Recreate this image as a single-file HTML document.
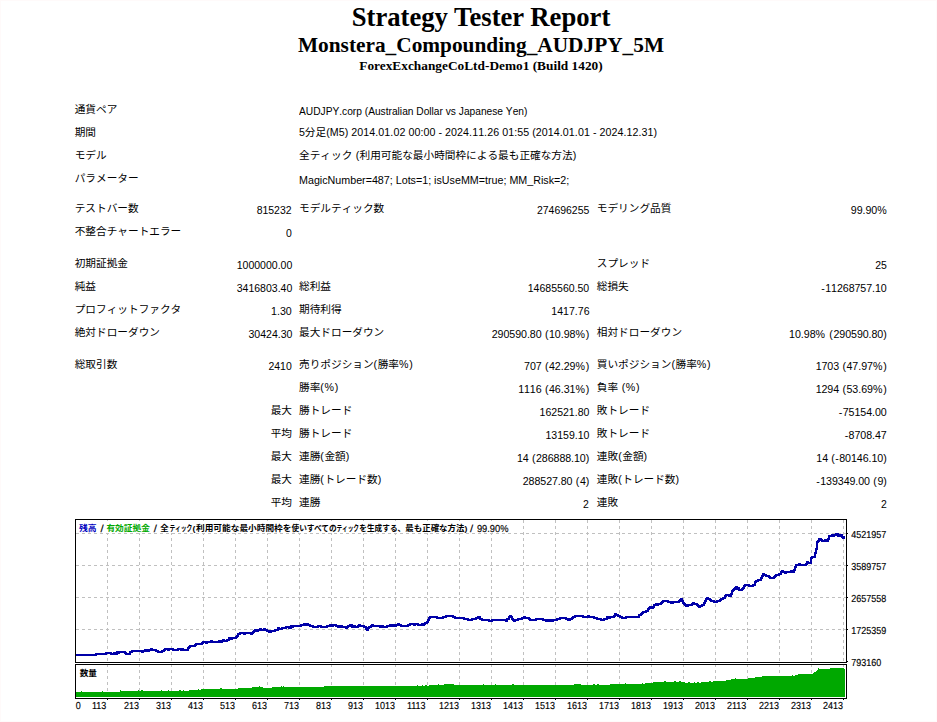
<!DOCTYPE html>
<html lang="ja"><head><meta charset="utf-8"><title>Strategy Tester: Monstera_Compounding_AUDJPY_5M</title>
<style>
html,body{margin:0;padding:0;background:#fff;}
html{overflow:hidden;}
body{width:937px;height:722px;overflow:hidden;position:relative;color:#000;
 font-family:"Liberation Sans","Noto Sans CJK JP",sans-serif;}
.hd{position:absolute;left:0;width:962px;text-align:center;font-family:"Liberation Serif","Noto Serif CJK SC",serif;font-weight:bold;white-space:nowrap;}
.h1{top:2px;font-size:26.67px;line-height:31px;}
.h2{top:33px;font-size:21.33px;line-height:25px;}
.h3{top:58px;font-size:13.33px;line-height:15px;}
.row{position:absolute;left:0;width:937px;height:16px;}
.t{position:absolute;top:0;white-space:nowrap;font-size:10.67px;line-height:16px;font-kerning:none;}
.n{top:2px;}
i{font-style:normal;}
.l{transform-origin:0 50%;}
.r{transform-origin:100% 50%;}
#chart{position:absolute;left:0;top:0;}
#foot{position:absolute;left:0;top:0;width:935px;height:720px;border:1px solid #fffafa;pointer-events:none;}
#page{position:absolute;left:0;top:0;width:937px;height:722px;overflow:hidden;}
</style></head><body>
<div id="page">
<div class="hd h1">Strategy Tester Report</div>
<div class="hd h2">Monstera_Compounding_AUDJPY_5M</div>
<div class="hd h3">ForexExchangeCoLtd-Demo1 (Build 1420)</div>
<div id="tbl">
<div class="row" style="top:101px">
<span class="t l" style="left:74.7px">通貨ペア</span>
<span class="t l n" style="left:299px;transform:scaleX(0.9569)">AUDJPY.corp (Australian Dollar vs Japanese Yen)</span>
</div>
<div class="row" style="top:124px">
<span class="t l" style="left:74.7px">期間</span>
<span class="t l" style="left:299px"><i style="letter-spacing:-0.12px">5</i>分足<i style="letter-spacing:0.07px">(M5) 2014.01.02 00:00 - 2024.11.26 01:55 (2014.01.01 - 2024.12.31)</i></span>
</div>
<div class="row" style="top:147px">
<span class="t l" style="left:74.7px">モデル</span>
<span class="t l" style="left:299px">全ティック<i style="letter-spacing:0.37px"> (</i>利用可能な最小時間枠による最も正確な方法<i style="letter-spacing:0.43px">)</i></span>
</div>
<div class="row" style="top:170px">
<span class="t l" style="left:74.7px">パラメーター</span>
<span class="t l n" style="left:299px;transform:scaleX(1.0049)">MagicNumber=487; Lots=1; isUseMM=true; MM_Risk=2;</span>
</div>
<div class="row" style="top:200px">
<span class="t l" style="left:74.7px">テストバー数</span>
<span class="t r n" style="right:645.0px;transform:scaleX(0.9824)">815232</span>
<span class="t l" style="left:299px">モデルティック数</span>
<span class="t r n" style="right:347.7px;transform:scaleX(0.9824)">274696255</span>
<span class="t l" style="left:596.8px">モデリング品質</span>
<span class="t r n" style="right:49.3px"><i style="letter-spacing:-0.03px">99.90</i><i style="letter-spacing:0.94px">%</i></span>
</div>
<div class="row" style="top:223px">
<span class="t l" style="left:74.7px">不整合チャートエラー</span>
<span class="t r n" style="right:645.0px;transform:scaleX(0.9807)">0</span>
</div>
<div class="row" style="top:255px">
<span class="t l" style="left:74.7px">初期証拠金</span>
<span class="t r n" style="right:645.0px;transform:scaleX(0.9881)">1000000.00</span>
<span class="t l" style="left:596.8px">スプレッド</span>
<span class="t r n" style="right:50.2px;transform:scaleX(0.9820)">25</span>
</div>
<div class="row" style="top:278px">
<span class="t l" style="left:74.7px">純益</span>
<span class="t r n" style="right:645.0px;transform:scaleX(0.9881)">3416803.40</span>
<span class="t l" style="left:299px">総利益</span>
<span class="t r n" style="right:347.7px;transform:scaleX(0.9876)">14685560.50</span>
<span class="t l" style="left:596.8px">総損失</span>
<span class="t r n" style="right:50.3px"><i style="letter-spacing:0.32px">-</i><i style="letter-spacing:-0.07px">11268757.10</i></span>
</div>
<div class="row" style="top:301px">
<span class="t l" style="left:74.7px">プロフィットファクタ</span>
<span class="t r n" style="right:645.0px;transform:scaleX(0.9977)">1.30</span>
<span class="t l" style="left:299px">期待利得</span>
<span class="t r n" style="right:347.7px;transform:scaleX(0.9907)">1417.76</span>
</div>
<div class="row" style="top:324px">
<span class="t l" style="left:74.7px">絶対ドローダウン</span>
<span class="t r n" style="right:645.0px;transform:scaleX(0.9897)">30424.30</span>
<span class="t l" style="left:299px">最大ドローダウン</span>
<span class="t r n" style="right:347.0px"><i style="letter-spacing:-0.07px">290590.80</i><i style="letter-spacing:0.46px"> (</i><i style="letter-spacing:-0.03px">10.98</i><i style="letter-spacing:0.74px">%)</i></span>
<span class="t l" style="left:596.8px">相対ドローダウン</span>
<span class="t r n" style="right:49.7px"><i style="letter-spacing:-0.03px">10.98</i><i style="letter-spacing:0.62px">% (</i><i style="letter-spacing:-0.07px">290590.80</i><i style="letter-spacing:0.54px">)</i></span>
</div>
<div class="row" style="top:356px">
<span class="t l" style="left:74.7px">総取引数</span>
<span class="t r n" style="right:645.0px;transform:scaleX(0.9820)">2410</span>
<span class="t l" style="left:299px">売りポジション<i style="letter-spacing:0.53px">(</i>勝率<i style="letter-spacing:0.74px">%)</i></span>
<span class="t r n" style="right:347.0px"><i style="letter-spacing:-0.11px">707</i><i style="letter-spacing:0.46px"> (</i><i style="letter-spacing:-0.03px">42.29</i><i style="letter-spacing:0.74px">%)</i></span>
<span class="t l" style="left:596.8px">買いポジション<i style="letter-spacing:0.53px">(</i>勝率<i style="letter-spacing:0.74px">%)</i></span>
<span class="t r n" style="right:49.5px"><i style="letter-spacing:-0.11px">1703</i><i style="letter-spacing:0.46px"> (</i><i style="letter-spacing:-0.03px">47.97</i><i style="letter-spacing:0.74px">%)</i></span>
</div>
<div class="row" style="top:379px">
<span class="t l" style="left:299px">勝率<i style="letter-spacing:0.67px">(%)</i></span>
<span class="t r n" style="right:347.0px"><i style="letter-spacing:-0.11px">1116</i><i style="letter-spacing:0.46px"> (</i><i style="letter-spacing:-0.03px">46.31</i><i style="letter-spacing:0.74px">%)</i></span>
<span class="t l" style="left:596.8px">負率<i style="letter-spacing:0.60px"> (%)</i></span>
<span class="t r n" style="right:49.5px"><i style="letter-spacing:-0.11px">1294</i><i style="letter-spacing:0.46px"> (</i><i style="letter-spacing:-0.03px">53.69</i><i style="letter-spacing:0.74px">%)</i></span>
</div>
<div class="row" style="top:402px">
<span class="t r" style="right:645.0px">最大</span>
<span class="t l" style="left:299px">勝トレード</span>
<span class="t r n" style="right:347.7px;transform:scaleX(0.9889)">162521.80</span>
<span class="t l" style="left:596.8px">敗トレード</span>
<span class="t r n" style="right:50.3px"><i style="letter-spacing:0.32px">-</i><i style="letter-spacing:-0.06px">75154.00</i></span>
</div>
<div class="row" style="top:425px">
<span class="t r" style="right:645.0px">平均</span>
<span class="t l" style="left:299px">勝トレード</span>
<span class="t r n" style="right:347.7px;transform:scaleX(0.9897)">13159.10</span>
<span class="t l" style="left:596.8px">敗トレード</span>
<span class="t r n" style="right:50.3px"><i style="letter-spacing:0.32px">-</i><i style="letter-spacing:-0.06px">8708.47</i></span>
</div>
<div class="row" style="top:448px">
<span class="t r" style="right:645.0px">最大</span>
<span class="t l" style="left:299px">連勝<i style="letter-spacing:0.53px">(</i>金額<i style="letter-spacing:0.53px">)</i></span>
<span class="t r n" style="right:347.2px"><i style="letter-spacing:-0.11px">14</i><i style="letter-spacing:0.46px"> (</i><i style="letter-spacing:-0.07px">286888.10</i><i style="letter-spacing:0.54px">)</i></span>
<span class="t l" style="left:596.8px">連敗<i style="letter-spacing:0.53px">(</i>金額<i style="letter-spacing:0.53px">)</i></span>
<span class="t r n" style="right:49.7px"><i style="letter-spacing:-0.11px">14</i><i style="letter-spacing:0.41px"> (-</i><i style="letter-spacing:-0.06px">80146.10</i><i style="letter-spacing:0.54px">)</i></span>
</div>
<div class="row" style="top:471px">
<span class="t r" style="right:645.0px">最大</span>
<span class="t l" style="left:299px">連勝<i style="letter-spacing:0.53px">(</i>トレード数<i style="letter-spacing:0.53px">)</i></span>
<span class="t r n" style="right:347.2px"><i style="letter-spacing:-0.07px">288527.80</i><i style="letter-spacing:0.46px"> (</i><i style="letter-spacing:-0.11px">4</i><i style="letter-spacing:0.54px">)</i></span>
<span class="t l" style="left:596.8px">連敗<i style="letter-spacing:0.53px">(</i>トレード数<i style="letter-spacing:0.53px">)</i></span>
<span class="t r n" style="right:49.7px"><i style="letter-spacing:0.32px">-</i><i style="letter-spacing:-0.07px">139349.00</i><i style="letter-spacing:0.46px"> (</i><i style="letter-spacing:-0.11px">9</i><i style="letter-spacing:0.54px">)</i></span>
</div>
<div class="row" style="top:494px">
<span class="t r" style="right:645.0px">平均</span>
<span class="t l" style="left:299px">連勝</span>
<span class="t r n" style="right:347.7px;transform:scaleX(0.9807)">2</span>
<span class="t l" style="left:596.8px">連敗</span>
<span class="t r n" style="right:50.2px;transform:scaleX(0.9807)">2</span>
</div>
</div>
<svg id="chart" width="937" height="722" viewBox="0 0 937 722">
<g fill="none" stroke="#c0c0c0" stroke-width="1" stroke-dasharray="3 3" shape-rendering="crispEdges">
<path d="M107.5 520V698M139.5 520V698M171.5 520V698M203.5 520V698M235.5 520V698M267.5 520V698M299.5 520V698M331.5 520V698M363.5 520V698M395.5 520V698M427.5 520V698M459.5 520V698M491.5 520V698M523.5 520V698M555.5 520V698M587.5 520V698M619.5 520V698M651.5 520V698M683.5 520V698M715.5 520V698M747.5 520V698M779.5 520V698M811.5 520V698M843.5 520V698M76 533.5H846M76 565.5H846M76 597.5H846M76 629.5H846"/>
</g>
<path d="M70 663h790v1h-790z M76 521h434v12h-434z" fill="#fff"/>
<path d="M76 692h1V697h-1zM77 692h1V697h-1zM78 692h1V697h-1zM79 692h1V697h-1zM80 692h1V697h-1zM81 691h1V697h-1zM82 692h1V697h-1zM83 692h1V697h-1zM84 692h1V697h-1zM85 692h1V697h-1zM86 692h1V697h-1zM87 692h1V697h-1zM88 692h1V697h-1zM89 692h1V697h-1zM90 692h1V697h-1zM91 692h1V697h-1zM92 692h1V697h-1zM93 692h1V697h-1zM94 692h1V697h-1zM95 692h1V697h-1zM96 692h1V697h-1zM97 692h1V697h-1zM98 692h1V697h-1zM99 692h1V697h-1zM100 692h1V697h-1zM101 692h1V697h-1zM102 691h1V697h-1zM103 692h1V697h-1zM104 692h1V697h-1zM105 692h1V697h-1zM106 692h1V697h-1zM107 692h1V697h-1zM108 692h1V697h-1zM109 692h1V697h-1zM110 692h1V697h-1zM111 692h1V697h-1zM112 692h1V697h-1zM113 692h1V697h-1zM114 692h1V697h-1zM115 692h1V697h-1zM116 692h1V697h-1zM117 692h1V697h-1zM118 692h1V697h-1zM119 692h1V697h-1zM120 690h1V697h-1zM121 691h1V697h-1zM122 691h1V697h-1zM123 691h1V697h-1zM124 691h1V697h-1zM125 691h1V697h-1zM126 691h1V697h-1zM127 691h1V697h-1zM128 691h1V697h-1zM129 691h1V697h-1zM130 691h1V697h-1zM131 691h1V697h-1zM132 691h1V697h-1zM133 691h1V697h-1zM134 691h1V697h-1zM135 691h1V697h-1zM136 691h1V697h-1zM137 691h1V697h-1zM138 690h1V697h-1zM139 691h1V697h-1zM140 691h1V697h-1zM141 690h1V697h-1zM142 690h1V697h-1zM143 691h1V697h-1zM144 691h1V697h-1zM145 691h1V697h-1zM146 691h1V697h-1zM147 691h1V697h-1zM148 691h1V697h-1zM149 691h1V697h-1zM150 691h1V697h-1zM151 691h1V697h-1zM152 691h1V697h-1zM153 691h1V697h-1zM154 691h1V697h-1zM155 691h1V697h-1zM156 691h1V697h-1zM157 691h1V697h-1zM158 691h1V697h-1zM159 691h1V697h-1zM160 691h1V697h-1zM161 690h1V697h-1zM162 691h1V697h-1zM163 691h1V697h-1zM164 691h1V697h-1zM165 691h1V697h-1zM166 691h1V697h-1zM167 691h1V697h-1zM168 690h1V697h-1zM169 691h1V697h-1zM170 691h1V697h-1zM171 691h1V697h-1zM172 691h1V697h-1zM173 691h1V697h-1zM174 691h1V697h-1zM175 691h1V697h-1zM176 691h1V697h-1zM177 691h1V697h-1zM178 691h1V697h-1zM179 690h1V697h-1zM180 690h1V697h-1zM181 691h1V697h-1zM182 691h1V697h-1zM183 690h1V697h-1zM184 691h1V697h-1zM185 691h1V697h-1zM186 691h1V697h-1zM187 691h1V697h-1zM188 691h1V697h-1zM189 690h1V697h-1zM190 690h1V697h-1zM191 690h1V697h-1zM192 690h1V697h-1zM193 690h1V697h-1zM194 690h1V697h-1zM195 690h1V697h-1zM196 690h1V697h-1zM197 690h1V697h-1zM198 689h1V697h-1zM199 690h1V697h-1zM200 690h1V697h-1zM201 689h1V697h-1zM202 689h1V697h-1zM203 689h1V697h-1zM204 689h1V697h-1zM205 689h1V697h-1zM206 689h1V697h-1zM207 689h1V697h-1zM208 689h1V697h-1zM209 689h1V697h-1zM210 689h1V697h-1zM211 689h1V697h-1zM212 689h1V697h-1zM213 689h1V697h-1zM214 689h1V697h-1zM215 689h1V697h-1zM216 689h1V697h-1zM217 689h1V697h-1zM218 689h1V697h-1zM219 689h1V697h-1zM220 688h1V697h-1zM221 688h1V697h-1zM222 689h1V697h-1zM223 689h1V697h-1zM224 689h1V697h-1zM225 689h1V697h-1zM226 689h1V697h-1zM227 689h1V697h-1zM228 689h1V697h-1zM229 689h1V697h-1zM230 689h1V697h-1zM231 689h1V697h-1zM232 689h1V697h-1zM233 689h1V697h-1zM234 689h1V697h-1zM235 689h1V697h-1zM236 689h1V697h-1zM237 689h1V697h-1zM238 688h1V697h-1zM239 688h1V697h-1zM240 688h1V697h-1zM241 688h1V697h-1zM242 688h1V697h-1zM243 688h1V697h-1zM244 688h1V697h-1zM245 688h1V697h-1zM246 688h1V697h-1zM247 688h1V697h-1zM248 688h1V697h-1zM249 688h1V697h-1zM250 688h1V697h-1zM251 688h1V697h-1zM252 687h1V697h-1zM253 687h1V697h-1zM254 687h1V697h-1zM255 687h1V697h-1zM256 687h1V697h-1zM257 687h1V697h-1zM258 687h1V697h-1zM259 686h1V697h-1zM260 687h1V697h-1zM261 687h1V697h-1zM262 687h1V697h-1zM263 688h1V697h-1zM264 688h1V697h-1zM265 688h1V697h-1zM266 688h1V697h-1zM267 688h1V697h-1zM268 688h1V697h-1zM269 688h1V697h-1zM270 688h1V697h-1zM271 688h1V697h-1zM272 687h1V697h-1zM273 687h1V697h-1zM274 687h1V697h-1zM275 687h1V697h-1zM276 687h1V697h-1zM277 687h1V697h-1zM278 687h1V697h-1zM279 687h1V697h-1zM280 687h1V697h-1zM281 686h1V697h-1zM282 687h1V697h-1zM283 686h1V697h-1zM284 687h1V697h-1zM285 687h1V697h-1zM286 687h1V697h-1zM287 687h1V697h-1zM288 687h1V697h-1zM289 687h1V697h-1zM290 687h1V697h-1zM291 687h1V697h-1zM292 687h1V697h-1zM293 687h1V697h-1zM294 687h1V697h-1zM295 687h1V697h-1zM296 687h1V697h-1zM297 687h1V697h-1zM298 687h1V697h-1zM299 687h1V697h-1zM300 687h1V697h-1zM301 687h1V697h-1zM302 687h1V697h-1zM303 687h1V697h-1zM304 687h1V697h-1zM305 687h1V697h-1zM306 687h1V697h-1zM307 687h1V697h-1zM308 687h1V697h-1zM309 687h1V697h-1zM310 687h1V697h-1zM311 687h1V697h-1zM312 687h1V697h-1zM313 687h1V697h-1zM314 687h1V697h-1zM315 687h1V697h-1zM316 687h1V697h-1zM317 687h1V697h-1zM318 687h1V697h-1zM319 687h1V697h-1zM320 687h1V697h-1zM321 687h1V697h-1zM322 687h1V697h-1zM323 687h1V697h-1zM324 686h1V697h-1zM325 686h1V697h-1zM326 686h1V697h-1zM327 686h1V697h-1zM328 686h1V697h-1zM329 686h1V697h-1zM330 686h1V697h-1zM331 686h1V697h-1zM332 686h1V697h-1zM333 686h1V697h-1zM334 686h1V697h-1zM335 686h1V697h-1zM336 686h1V697h-1zM337 686h1V697h-1zM338 686h1V697h-1zM339 686h1V697h-1zM340 686h1V697h-1zM341 686h1V697h-1zM342 686h1V697h-1zM343 686h1V697h-1zM344 686h1V697h-1zM345 686h1V697h-1zM346 686h1V697h-1zM347 686h1V697h-1zM348 686h1V697h-1zM349 686h1V697h-1zM350 686h1V697h-1zM351 686h1V697h-1zM352 686h1V697h-1zM353 686h1V697h-1zM354 686h1V697h-1zM355 686h1V697h-1zM356 686h1V697h-1zM357 686h1V697h-1zM358 686h1V697h-1zM359 686h1V697h-1zM360 686h1V697h-1zM361 686h1V697h-1zM362 686h1V697h-1zM363 686h1V697h-1zM364 686h1V697h-1zM365 686h1V697h-1zM366 686h1V697h-1zM367 686h1V697h-1zM368 686h1V697h-1zM369 686h1V697h-1zM370 686h1V697h-1zM371 686h1V697h-1zM372 686h1V697h-1zM373 686h1V697h-1zM374 686h1V697h-1zM375 686h1V697h-1zM376 686h1V697h-1zM377 686h1V697h-1zM378 686h1V697h-1zM379 686h1V697h-1zM380 686h1V697h-1zM381 686h1V697h-1zM382 686h1V697h-1zM383 686h1V697h-1zM384 686h1V697h-1zM385 686h1V697h-1zM386 686h1V697h-1zM387 686h1V697h-1zM388 686h1V697h-1zM389 686h1V697h-1zM390 686h1V697h-1zM391 686h1V697h-1zM392 686h1V697h-1zM393 686h1V697h-1zM394 686h1V697h-1zM395 686h1V697h-1zM396 686h1V697h-1zM397 686h1V697h-1zM398 686h1V697h-1zM399 686h1V697h-1zM400 686h1V697h-1zM401 686h1V697h-1zM402 686h1V697h-1zM403 686h1V697h-1zM404 686h1V697h-1zM405 686h1V697h-1zM406 686h1V697h-1zM407 686h1V697h-1zM408 686h1V697h-1zM409 686h1V697h-1zM410 686h1V697h-1zM411 686h1V697h-1zM412 686h1V697h-1zM413 686h1V697h-1zM414 686h1V697h-1zM415 686h1V697h-1zM416 686h1V697h-1zM417 685h1V697h-1zM418 686h1V697h-1zM419 686h1V697h-1zM420 686h1V697h-1zM421 686h1V697h-1zM422 685h1V697h-1zM423 686h1V697h-1zM424 686h1V697h-1zM425 685h1V697h-1zM426 685h1V697h-1zM427 686h1V697h-1zM428 686h1V697h-1zM429 685h1V697h-1zM430 685h1V697h-1zM431 685h1V697h-1zM432 685h1V697h-1zM433 685h1V697h-1zM434 685h1V697h-1zM435 685h1V697h-1zM436 685h1V697h-1zM437 685h1V697h-1zM438 684h1V697h-1zM439 685h1V697h-1zM440 685h1V697h-1zM441 685h1V697h-1zM442 685h1V697h-1zM443 685h1V697h-1zM444 684h1V697h-1zM445 684h1V697h-1zM446 684h1V697h-1zM447 684h1V697h-1zM448 684h1V697h-1zM449 684h1V697h-1zM450 684h1V697h-1zM451 684h1V697h-1zM452 684h1V697h-1zM453 684h1V697h-1zM454 685h1V697h-1zM455 685h1V697h-1zM456 685h1V697h-1zM457 685h1V697h-1zM458 685h1V697h-1zM459 685h1V697h-1zM460 685h1V697h-1zM461 685h1V697h-1zM462 685h1V697h-1zM463 685h1V697h-1zM464 685h1V697h-1zM465 685h1V697h-1zM466 685h1V697h-1zM467 685h1V697h-1zM468 685h1V697h-1zM469 685h1V697h-1zM470 685h1V697h-1zM471 685h1V697h-1zM472 685h1V697h-1zM473 685h1V697h-1zM474 685h1V697h-1zM475 685h1V697h-1zM476 685h1V697h-1zM477 685h1V697h-1zM478 685h1V697h-1zM479 685h1V697h-1zM480 685h1V697h-1zM481 685h1V697h-1zM482 685h1V697h-1zM483 684h1V697h-1zM484 685h1V697h-1zM485 685h1V697h-1zM486 685h1V697h-1zM487 685h1V697h-1zM488 685h1V697h-1zM489 685h1V697h-1zM490 685h1V697h-1zM491 685h1V697h-1zM492 685h1V697h-1zM493 685h1V697h-1zM494 685h1V697h-1zM495 684h1V697h-1zM496 685h1V697h-1zM497 685h1V697h-1zM498 685h1V697h-1zM499 685h1V697h-1zM500 685h1V697h-1zM501 685h1V697h-1zM502 685h1V697h-1zM503 685h1V697h-1zM504 685h1V697h-1zM505 685h1V697h-1zM506 685h1V697h-1zM507 685h1V697h-1zM508 685h1V697h-1zM509 685h1V697h-1zM510 685h1V697h-1zM511 685h1V697h-1zM512 684h1V697h-1zM513 684h1V697h-1zM514 685h1V697h-1zM515 685h1V697h-1zM516 685h1V697h-1zM517 685h1V697h-1zM518 685h1V697h-1zM519 685h1V697h-1zM520 685h1V697h-1zM521 685h1V697h-1zM522 685h1V697h-1zM523 685h1V697h-1zM524 685h1V697h-1zM525 685h1V697h-1zM526 685h1V697h-1zM527 685h1V697h-1zM528 685h1V697h-1zM529 685h1V697h-1zM530 685h1V697h-1zM531 685h1V697h-1zM532 685h1V697h-1zM533 685h1V697h-1zM534 685h1V697h-1zM535 685h1V697h-1zM536 685h1V697h-1zM537 685h1V697h-1zM538 685h1V697h-1zM539 685h1V697h-1zM540 685h1V697h-1zM541 685h1V697h-1zM542 685h1V697h-1zM543 685h1V697h-1zM544 685h1V697h-1zM545 685h1V697h-1zM546 685h1V697h-1zM547 685h1V697h-1zM548 685h1V697h-1zM549 685h1V697h-1zM550 685h1V697h-1zM551 685h1V697h-1zM552 685h1V697h-1zM553 685h1V697h-1zM554 685h1V697h-1zM555 685h1V697h-1zM556 685h1V697h-1zM557 685h1V697h-1zM558 685h1V697h-1zM559 685h1V697h-1zM560 685h1V697h-1zM561 685h1V697h-1zM562 685h1V697h-1zM563 685h1V697h-1zM564 685h1V697h-1zM565 685h1V697h-1zM566 685h1V697h-1zM567 685h1V697h-1zM568 685h1V697h-1zM569 685h1V697h-1zM570 685h1V697h-1zM571 685h1V697h-1zM572 685h1V697h-1zM573 685h1V697h-1zM574 684h1V697h-1zM575 684h1V697h-1zM576 684h1V697h-1zM577 684h1V697h-1zM578 684h1V697h-1zM579 684h1V697h-1zM580 684h1V697h-1zM581 685h1V697h-1zM582 685h1V697h-1zM583 685h1V697h-1zM584 685h1V697h-1zM585 685h1V697h-1zM586 685h1V697h-1zM587 685h1V697h-1zM588 685h1V697h-1zM589 685h1V697h-1zM590 685h1V697h-1zM591 685h1V697h-1zM592 685h1V697h-1zM593 684h1V697h-1zM594 684h1V697h-1zM595 685h1V697h-1zM596 685h1V697h-1zM597 684h1V697h-1zM598 684h1V697h-1zM599 685h1V697h-1zM600 685h1V697h-1zM601 685h1V697h-1zM602 685h1V697h-1zM603 685h1V697h-1zM604 685h1V697h-1zM605 685h1V697h-1zM606 685h1V697h-1zM607 685h1V697h-1zM608 685h1V697h-1zM609 685h1V697h-1zM610 684h1V697h-1zM611 684h1V697h-1zM612 684h1V697h-1zM613 684h1V697h-1zM614 684h1V697h-1zM615 684h1V697h-1zM616 684h1V697h-1zM617 684h1V697h-1zM618 684h1V697h-1zM619 684h1V697h-1zM620 684h1V697h-1zM621 684h1V697h-1zM622 684h1V697h-1zM623 684h1V697h-1zM624 684h1V697h-1zM625 683h1V697h-1zM626 684h1V697h-1zM627 684h1V697h-1zM628 684h1V697h-1zM629 684h1V697h-1zM630 684h1V697h-1zM631 684h1V697h-1zM632 684h1V697h-1zM633 684h1V697h-1zM634 684h1V697h-1zM635 684h1V697h-1zM636 684h1V697h-1zM637 684h1V697h-1zM638 684h1V697h-1zM639 684h1V697h-1zM640 684h1V697h-1zM641 684h1V697h-1zM642 683h1V697h-1zM643 684h1V697h-1zM644 684h1V697h-1zM645 683h1V697h-1zM646 683h1V697h-1zM647 683h1V697h-1zM648 683h1V697h-1zM649 683h1V697h-1zM650 683h1V697h-1zM651 683h1V697h-1zM652 683h1V697h-1zM653 682h1V697h-1zM654 682h1V697h-1zM655 682h1V697h-1zM656 682h1V697h-1zM657 682h1V697h-1zM658 682h1V697h-1zM659 682h1V697h-1zM660 682h1V697h-1zM661 682h1V697h-1zM662 682h1V697h-1zM663 682h1V697h-1zM664 681h1V697h-1zM665 681h1V697h-1zM666 682h1V697h-1zM667 682h1V697h-1zM668 682h1V697h-1zM669 682h1V697h-1zM670 682h1V697h-1zM671 682h1V697h-1zM672 682h1V697h-1zM673 682h1V697h-1zM674 681h1V697h-1zM675 681h1V697h-1zM676 682h1V697h-1zM677 682h1V697h-1zM678 682h1V697h-1zM679 681h1V697h-1zM680 681h1V697h-1zM681 682h1V697h-1zM682 682h1V697h-1zM683 682h1V697h-1zM684 682h1V697h-1zM685 683h1V697h-1zM686 683h1V697h-1zM687 683h1V697h-1zM688 682h1V697h-1zM689 682h1V697h-1zM690 683h1V697h-1zM691 683h1V697h-1zM692 683h1V697h-1zM693 683h1V697h-1zM694 682h1V697h-1zM695 683h1V697h-1zM696 683h1V697h-1zM697 682h1V697h-1zM698 682h1V697h-1zM699 683h1V697h-1zM700 683h1V697h-1zM701 682h1V697h-1zM702 682h1V697h-1zM703 682h1V697h-1zM704 682h1V697h-1zM705 682h1V697h-1zM706 682h1V697h-1zM707 682h1V697h-1zM708 682h1V697h-1zM709 681h1V697h-1zM710 681h1V697h-1zM711 682h1V697h-1zM712 682h1V697h-1zM713 681h1V697h-1zM714 681h1V697h-1zM715 681h1V697h-1zM716 681h1V697h-1zM717 681h1V697h-1zM718 681h1V697h-1zM719 681h1V697h-1zM720 681h1V697h-1zM721 681h1V697h-1zM722 681h1V697h-1zM723 681h1V697h-1zM724 681h1V697h-1zM725 681h1V697h-1zM726 680h1V697h-1zM727 680h1V697h-1zM728 680h1V697h-1zM729 680h1V697h-1zM730 680h1V697h-1zM731 679h1V697h-1zM732 679h1V697h-1zM733 679h1V697h-1zM734 679h1V697h-1zM735 678h1V697h-1zM736 679h1V697h-1zM737 679h1V697h-1zM738 679h1V697h-1zM739 679h1V697h-1zM740 679h1V697h-1zM741 679h1V697h-1zM742 679h1V697h-1zM743 679h1V697h-1zM744 679h1V697h-1zM745 679h1V697h-1zM746 679h1V697h-1zM747 679h1V697h-1zM748 678h1V697h-1zM749 678h1V697h-1zM750 678h1V697h-1zM751 678h1V697h-1zM752 678h1V697h-1zM753 678h1V697h-1zM754 678h1V697h-1zM755 677h1V697h-1zM756 677h1V697h-1zM757 677h1V697h-1zM758 677h1V697h-1zM759 677h1V697h-1zM760 677h1V697h-1zM761 677h1V697h-1zM762 676h1V697h-1zM763 676h1V697h-1zM764 676h1V697h-1zM765 676h1V697h-1zM766 676h1V697h-1zM767 676h1V697h-1zM768 676h1V697h-1zM769 676h1V697h-1zM770 676h1V697h-1zM771 676h1V697h-1zM772 676h1V697h-1zM773 676h1V697h-1zM774 676h1V697h-1zM775 676h1V697h-1zM776 676h1V697h-1zM777 676h1V697h-1zM778 676h1V697h-1zM779 676h1V697h-1zM780 676h1V697h-1zM781 676h1V697h-1zM782 676h1V697h-1zM783 676h1V697h-1zM784 676h1V697h-1zM785 676h1V697h-1zM786 676h1V697h-1zM787 676h1V697h-1zM788 676h1V697h-1zM789 676h1V697h-1zM790 676h1V697h-1zM791 676h1V697h-1zM792 675h1V697h-1zM793 676h1V697h-1zM794 676h1V697h-1zM795 675h1V697h-1zM796 675h1V697h-1zM797 675h1V697h-1zM798 674h1V697h-1zM799 674h1V697h-1zM800 674h1V697h-1zM801 674h1V697h-1zM802 674h1V697h-1zM803 674h1V697h-1zM804 674h1V697h-1zM805 674h1V697h-1zM806 674h1V697h-1zM807 674h1V697h-1zM808 674h1V697h-1zM809 674h1V697h-1zM810 674h1V697h-1zM811 674h1V697h-1zM812 674h1V697h-1zM813 673h1V697h-1zM814 672h1V697h-1zM815 672h1V697h-1zM816 671h1V697h-1zM817 670h1V697h-1zM818 668h1V697h-1zM819 669h1V697h-1zM820 669h1V697h-1zM821 669h1V697h-1zM822 669h1V697h-1zM823 669h1V697h-1zM824 669h1V697h-1zM825 669h1V697h-1zM826 669h1V697h-1zM827 669h1V697h-1zM828 669h1V697h-1zM829 669h1V697h-1zM830 668h1V697h-1zM831 668h1V697h-1zM832 668h1V697h-1zM833 668h1V697h-1zM834 668h1V697h-1zM835 668h1V697h-1zM836 668h1V697h-1zM837 668h1V697h-1zM838 668h1V697h-1zM839 668h1V697h-1zM840 668h1V697h-1zM841 668h1V697h-1zM842 668h1V697h-1zM843 668h1V697h-1zM844 669h1V697h-1z" fill="#00a800" shape-rendering="crispEdges"/>
<path d="M75 654h2v2h-2zM76 654h2v2h-2zM77 654h2v2h-2zM78 654h2v2h-2zM79 654h2v2h-2zM80 654h2v2h-2zM81 654h2v2h-2zM82 654h2v2h-2zM83 654h2v2h-2zM84 654h2v2h-2zM85 654h2v2h-2zM86 654h2v2h-2zM87 654h2v2h-2zM88 654h2v2h-2zM89 654h2v2h-2zM90 654h2v2h-2zM91 654h2v2h-2zM92 654h2v2h-2zM93 654h2v2h-2zM94 654h2v2h-2zM95 653h2v3h-2zM96 653h2v2h-2zM97 653h2v2h-2zM98 653h2v2h-2zM99 653h2v2h-2zM100 653h2v2h-2zM101 653h2v2h-2zM102 653h2v2h-2zM103 653h2v2h-2zM104 653h2v2h-2zM105 652h2v3h-2zM106 652h2v2h-2zM107 652h2v2h-2zM108 652h2v2h-2zM109 652h2v2h-2zM110 652h2v3h-2zM111 653h2v2h-2zM112 653h2v2h-2zM113 652h2v3h-2zM114 652h2v3h-2zM115 653h2v2h-2zM116 651h2v4h-2zM117 651h2v3h-2zM118 651h2v3h-2zM119 651h2v2h-2zM120 651h2v2h-2zM121 651h2v2h-2zM122 651h2v2h-2zM123 651h2v2h-2zM124 651h2v3h-2zM125 652h2v3h-2zM126 653h2v2h-2zM127 653h2v2h-2zM128 653h2v2h-2zM129 651h2v4h-2zM130 651h2v2h-2zM131 650h2v3h-2zM132 650h2v2h-2zM133 650h2v2h-2zM134 650h2v2h-2zM135 650h2v2h-2zM136 650h2v2h-2zM137 650h2v2h-2zM138 650h2v2h-2zM139 650h2v2h-2zM140 650h2v2h-2zM141 650h2v3h-2zM142 650h2v3h-2zM143 650h2v2h-2zM144 649h2v3h-2zM145 649h2v2h-2zM146 649h2v3h-2zM147 650h2v2h-2zM148 649h2v3h-2zM149 649h2v2h-2zM150 648h2v3h-2zM151 648h2v3h-2zM152 649h2v2h-2zM153 649h2v2h-2zM154 649h2v2h-2zM155 649h2v3h-2zM156 650h2v2h-2zM157 650h2v3h-2zM158 651h2v2h-2zM159 651h2v2h-2zM160 651h2v2h-2zM161 650h2v3h-2zM162 650h2v2h-2zM163 649h2v3h-2zM164 648h2v3h-2zM165 648h2v2h-2zM166 648h2v2h-2zM167 648h2v3h-2zM168 648h2v3h-2zM169 648h2v2h-2zM170 648h2v2h-2zM171 648h2v2h-2zM172 648h2v3h-2zM173 649h2v2h-2zM174 649h2v2h-2zM175 649h2v2h-2zM176 649h2v2h-2zM177 648h2v3h-2zM178 648h2v2h-2zM179 648h2v2h-2zM180 648h2v3h-2zM181 648h2v3h-2zM182 648h2v3h-2zM183 649h2v2h-2zM184 649h2v2h-2zM185 649h2v2h-2zM186 649h2v2h-2zM187 647h2v4h-2zM188 646h2v3h-2zM189 645h2v3h-2zM190 645h2v2h-2zM191 645h2v2h-2zM192 645h2v2h-2zM193 645h2v2h-2zM194 644h2v3h-2zM195 643h2v3h-2zM196 643h2v2h-2zM197 643h2v2h-2zM198 643h2v2h-2zM199 643h2v2h-2zM200 643h2v2h-2zM201 642h2v3h-2zM202 641h2v3h-2zM203 641h2v2h-2zM204 641h2v2h-2zM205 641h2v3h-2zM206 641h2v3h-2zM207 641h2v2h-2zM208 641h2v2h-2zM209 641h2v2h-2zM210 640h2v3h-2zM211 640h2v3h-2zM212 641h2v2h-2zM213 641h2v2h-2zM214 641h2v2h-2zM215 641h2v2h-2zM216 641h2v2h-2zM217 641h2v2h-2zM218 640h2v3h-2zM219 640h2v2h-2zM220 640h2v3h-2zM221 640h2v3h-2zM222 639h2v3h-2zM223 639h2v3h-2zM224 640h2v2h-2zM225 640h2v2h-2zM226 639h2v3h-2zM227 639h2v2h-2zM228 637h2v4h-2zM229 637h2v2h-2zM230 637h2v3h-2zM231 637h2v3h-2zM232 637h2v2h-2zM233 637h2v2h-2zM234 637h2v2h-2zM235 636h2v3h-2zM236 635h2v3h-2zM237 633h2v4h-2zM238 633h2v2h-2zM239 632h2v3h-2zM240 632h2v2h-2zM241 632h2v2h-2zM242 632h2v2h-2zM243 632h2v3h-2zM244 632h2v3h-2zM245 632h2v2h-2zM246 632h2v2h-2zM247 632h2v2h-2zM248 632h2v2h-2zM249 632h2v2h-2zM250 632h2v3h-2zM251 632h2v3h-2zM252 631h2v3h-2zM253 630h2v3h-2zM254 629h2v3h-2zM255 629h2v3h-2zM256 630h2v2h-2zM257 629h2v3h-2zM258 629h2v2h-2zM259 628h2v3h-2zM260 628h2v3h-2zM261 629h2v2h-2zM262 629h2v2h-2zM263 628h2v3h-2zM264 628h2v3h-2zM265 629h2v2h-2zM266 629h2v3h-2zM267 630h2v2h-2zM268 630h2v3h-2zM269 631h2v2h-2zM270 630h2v3h-2zM271 630h2v2h-2zM272 630h2v2h-2zM273 630h2v2h-2zM274 629h2v3h-2zM275 629h2v2h-2zM276 629h2v2h-2zM277 627h2v4h-2zM278 627h2v3h-2zM279 628h2v2h-2zM280 628h2v2h-2zM281 627h2v3h-2zM282 627h2v2h-2zM283 627h2v2h-2zM284 627h2v2h-2zM285 626h2v3h-2zM286 626h2v2h-2zM287 626h2v2h-2zM288 626h2v3h-2zM289 627h2v2h-2zM290 625h2v4h-2zM291 625h2v3h-2zM292 625h2v3h-2zM293 625h2v2h-2zM294 625h2v2h-2zM295 625h2v2h-2zM296 625h2v2h-2zM297 625h2v2h-2zM298 625h2v2h-2zM299 625h2v2h-2zM300 624h2v3h-2zM301 624h2v2h-2zM302 624h2v2h-2zM303 623h2v3h-2zM304 623h2v2h-2zM305 623h2v3h-2zM306 623h2v3h-2zM307 623h2v3h-2zM308 624h2v2h-2zM309 624h2v3h-2zM310 625h2v2h-2zM311 625h2v2h-2zM312 625h2v3h-2zM313 626h2v2h-2zM314 626h2v2h-2zM315 626h2v2h-2zM316 626h2v2h-2zM317 625h2v3h-2zM318 625h2v2h-2zM319 625h2v2h-2zM320 625h2v3h-2zM321 626h2v2h-2zM322 626h2v2h-2zM323 626h2v2h-2zM324 626h2v2h-2zM325 626h2v2h-2zM326 625h2v3h-2zM327 625h2v2h-2zM328 625h2v2h-2zM329 624h2v3h-2zM330 624h2v2h-2zM331 624h2v3h-2zM332 624h2v3h-2zM333 624h2v2h-2zM334 624h2v2h-2zM335 624h2v3h-2zM336 625h2v2h-2zM337 625h2v3h-2zM338 626h2v2h-2zM339 625h2v3h-2zM340 625h2v2h-2zM341 625h2v3h-2zM342 626h2v2h-2zM343 626h2v2h-2zM344 626h2v2h-2zM345 626h2v3h-2zM346 626h2v3h-2zM347 625h2v3h-2zM348 625h2v2h-2zM349 624h2v3h-2zM350 624h2v2h-2zM351 624h2v4h-2zM352 625h2v3h-2zM353 625h2v2h-2zM354 625h2v3h-2zM355 626h2v2h-2zM356 626h2v2h-2zM357 625h2v3h-2zM358 624h2v3h-2zM359 624h2v3h-2zM360 625h2v2h-2zM361 625h2v2h-2zM362 625h2v2h-2zM363 625h2v3h-2zM364 626h2v2h-2zM365 626h2v4h-2zM366 628h2v3h-2zM367 627h2v4h-2zM368 626h2v3h-2zM369 626h2v2h-2zM370 625h2v3h-2zM371 624h2v3h-2zM372 624h2v3h-2zM373 625h2v2h-2zM374 625h2v2h-2zM375 625h2v2h-2zM376 625h2v2h-2zM377 625h2v2h-2zM378 625h2v2h-2zM379 625h2v3h-2zM380 626h2v2h-2zM381 625h2v3h-2zM382 625h2v3h-2zM383 626h2v2h-2zM384 626h2v2h-2zM385 626h2v2h-2zM386 625h2v3h-2zM387 625h2v2h-2zM388 625h2v2h-2zM389 624h2v3h-2zM390 624h2v3h-2zM391 624h2v3h-2zM392 624h2v3h-2zM393 624h2v3h-2zM394 624h2v3h-2zM395 624h2v3h-2zM396 624h2v2h-2zM397 623h2v3h-2zM398 623h2v3h-2zM399 624h2v2h-2zM400 624h2v3h-2zM401 625h2v2h-2zM402 625h2v2h-2zM403 625h2v2h-2zM404 625h2v2h-2zM405 625h2v2h-2zM406 625h2v2h-2zM407 624h2v3h-2zM408 624h2v2h-2zM409 623h2v3h-2zM410 623h2v2h-2zM411 623h2v2h-2zM412 623h2v2h-2zM413 623h2v3h-2zM414 623h2v3h-2zM415 623h2v2h-2zM416 623h2v2h-2zM417 623h2v3h-2zM418 624h2v2h-2zM419 624h2v2h-2zM420 624h2v2h-2zM421 623h2v3h-2zM422 623h2v3h-2zM423 623h2v3h-2zM424 622h2v3h-2zM425 622h2v2h-2zM426 621h2v3h-2zM427 619h2v4h-2zM428 617h2v4h-2zM429 616h2v3h-2zM430 616h2v2h-2zM431 616h2v2h-2zM432 616h2v2h-2zM433 616h2v2h-2zM434 616h2v2h-2zM435 616h2v2h-2zM436 616h2v3h-2zM437 617h2v2h-2zM438 617h2v2h-2zM439 617h2v2h-2zM440 617h2v2h-2zM441 617h2v2h-2zM442 616h2v3h-2zM443 616h2v2h-2zM444 616h2v2h-2zM445 615h2v3h-2zM446 615h2v2h-2zM447 615h2v2h-2zM448 615h2v2h-2zM449 615h2v2h-2zM450 615h2v2h-2zM451 615h2v2h-2zM452 615h2v3h-2zM453 616h2v2h-2zM454 616h2v3h-2zM455 617h2v2h-2zM456 617h2v2h-2zM457 617h2v2h-2zM458 617h2v2h-2zM459 617h2v2h-2zM460 617h2v2h-2zM461 617h2v2h-2zM462 617h2v2h-2zM463 617h2v3h-2zM464 618h2v2h-2zM465 618h2v2h-2zM466 618h2v2h-2zM467 618h2v3h-2zM468 619h2v2h-2zM469 619h2v2h-2zM470 619h2v2h-2zM471 618h2v3h-2zM472 618h2v2h-2zM473 618h2v2h-2zM474 618h2v2h-2zM475 617h2v3h-2zM476 617h2v2h-2zM477 616h2v3h-2zM478 616h2v2h-2zM479 616h2v4h-2zM480 618h2v2h-2zM481 618h2v3h-2zM482 619h2v2h-2zM483 619h2v2h-2zM484 619h2v2h-2zM485 619h2v2h-2zM486 619h2v2h-2zM487 619h2v2h-2zM488 619h2v3h-2zM489 620h2v2h-2zM490 620h2v2h-2zM491 619h2v3h-2zM492 619h2v2h-2zM493 619h2v2h-2zM494 619h2v2h-2zM495 619h2v2h-2zM496 619h2v2h-2zM497 619h2v2h-2zM498 619h2v2h-2zM499 619h2v2h-2zM500 619h2v2h-2zM501 619h2v2h-2zM502 619h2v2h-2zM503 619h2v2h-2zM504 619h2v2h-2zM505 619h2v3h-2zM506 618h2v4h-2zM507 618h2v2h-2zM508 616h2v4h-2zM509 615h2v3h-2zM510 615h2v3h-2zM511 616h2v4h-2zM512 618h2v3h-2zM513 619h2v3h-2zM514 619h2v3h-2zM515 619h2v2h-2zM516 619h2v2h-2zM517 618h2v3h-2zM518 618h2v2h-2zM519 618h2v2h-2zM520 618h2v2h-2zM521 617h2v3h-2zM522 617h2v2h-2zM523 616h2v3h-2zM524 616h2v3h-2zM525 617h2v2h-2zM526 617h2v2h-2zM527 617h2v2h-2zM528 617h2v3h-2zM529 618h2v3h-2zM530 619h2v2h-2zM531 619h2v2h-2zM532 619h2v2h-2zM533 619h2v2h-2zM534 619h2v2h-2zM535 618h2v3h-2zM536 618h2v2h-2zM537 618h2v2h-2zM538 618h2v2h-2zM539 618h2v2h-2zM540 618h2v2h-2zM541 618h2v2h-2zM542 618h2v3h-2zM543 619h2v2h-2zM544 619h2v2h-2zM545 619h2v3h-2zM546 619h2v3h-2zM547 619h2v3h-2zM548 620h2v2h-2zM549 619h2v3h-2zM550 619h2v3h-2zM551 620h2v2h-2zM552 619h2v3h-2zM553 619h2v2h-2zM554 619h2v2h-2zM555 619h2v2h-2zM556 618h2v3h-2zM557 618h2v2h-2zM558 618h2v2h-2zM559 617h2v3h-2zM560 617h2v2h-2zM561 617h2v2h-2zM562 617h2v2h-2zM563 617h2v2h-2zM564 617h2v2h-2zM565 617h2v3h-2zM566 618h2v2h-2zM567 618h2v3h-2zM568 619h2v2h-2zM569 618h2v3h-2zM570 618h2v2h-2zM571 617h2v3h-2zM572 616h2v3h-2zM573 616h2v2h-2zM574 615h2v3h-2zM575 615h2v2h-2zM576 615h2v2h-2zM577 615h2v2h-2zM578 615h2v2h-2zM579 615h2v2h-2zM580 615h2v2h-2zM581 615h2v2h-2zM582 615h2v3h-2zM583 616h2v2h-2zM584 616h2v2h-2zM585 616h2v2h-2zM586 616h2v2h-2zM587 615h2v3h-2zM588 615h2v3h-2zM589 616h2v2h-2zM590 616h2v2h-2zM591 616h2v2h-2zM592 616h2v2h-2zM593 616h2v3h-2zM594 617h2v2h-2zM595 617h2v2h-2zM596 617h2v3h-2zM597 618h2v2h-2zM598 618h2v2h-2zM599 618h2v2h-2zM600 618h2v3h-2zM601 619h2v2h-2zM602 619h2v2h-2zM603 618h2v3h-2zM604 618h2v2h-2zM605 618h2v2h-2zM606 616h2v4h-2zM607 616h2v2h-2zM608 616h2v3h-2zM609 616h2v3h-2zM610 616h2v2h-2zM611 616h2v2h-2zM612 616h2v2h-2zM613 615h2v3h-2zM614 613h2v4h-2zM615 613h2v3h-2zM616 614h2v2h-2zM617 614h2v3h-2zM618 615h2v2h-2zM619 615h2v3h-2zM620 616h2v2h-2zM621 616h2v3h-2zM622 617h2v2h-2zM623 617h2v2h-2zM624 617h2v2h-2zM625 616h2v3h-2zM626 616h2v2h-2zM627 616h2v2h-2zM628 616h2v2h-2zM629 616h2v2h-2zM630 616h2v2h-2zM631 616h2v2h-2zM632 616h2v2h-2zM633 616h2v2h-2zM634 616h2v2h-2zM635 616h2v2h-2zM636 616h2v2h-2zM637 616h2v2h-2zM638 614h2v4h-2zM639 614h2v2h-2zM640 613h2v3h-2zM641 612h2v3h-2zM642 611h2v3h-2zM643 611h2v2h-2zM644 611h2v2h-2zM645 610h2v3h-2zM646 610h2v2h-2zM647 608h2v4h-2zM648 607h2v3h-2zM649 606h2v3h-2zM650 606h2v3h-2zM651 607h2v2h-2zM652 606h2v3h-2zM653 604h2v4h-2zM654 604h2v2h-2zM655 603h2v3h-2zM656 603h2v3h-2zM657 603h2v3h-2zM658 603h2v2h-2zM659 603h2v2h-2zM660 602h2v3h-2zM661 601h2v3h-2zM662 600h2v3h-2zM663 600h2v2h-2zM664 600h2v2h-2zM665 600h2v2h-2zM666 600h2v2h-2zM667 600h2v3h-2zM668 601h2v2h-2zM669 601h2v2h-2zM670 601h2v3h-2zM671 602h2v2h-2zM672 601h2v3h-2zM673 601h2v2h-2zM674 601h2v2h-2zM675 601h2v2h-2zM676 601h2v2h-2zM677 601h2v2h-2zM678 600h2v3h-2zM679 599h2v3h-2zM680 598h2v3h-2zM681 598h2v4h-2zM682 600h2v4h-2zM683 602h2v3h-2zM684 603h2v3h-2zM685 604h2v3h-2zM686 605h2v2h-2zM687 604h2v3h-2zM688 604h2v2h-2zM689 604h2v2h-2zM690 604h2v2h-2zM691 603h2v3h-2zM692 602h2v3h-2zM693 602h2v3h-2zM694 603h2v2h-2zM695 603h2v2h-2zM696 603h2v3h-2zM697 604h2v3h-2zM698 605h2v3h-2zM699 605h2v3h-2zM700 605h2v2h-2zM701 604h2v3h-2zM702 604h2v2h-2zM703 602h2v4h-2zM704 600h2v4h-2zM705 598h2v4h-2zM706 597h2v3h-2zM707 597h2v3h-2zM708 598h2v2h-2zM709 598h2v3h-2zM710 599h2v3h-2zM711 600h2v2h-2zM712 600h2v2h-2zM713 600h2v3h-2zM714 601h2v2h-2zM715 601h2v2h-2zM716 600h2v3h-2zM717 600h2v2h-2zM718 600h2v2h-2zM719 599h2v3h-2zM720 598h2v3h-2zM721 598h2v2h-2zM722 597h2v3h-2zM723 597h2v2h-2zM724 595h2v4h-2zM725 594h2v3h-2zM726 594h2v2h-2zM727 594h2v2h-2zM728 594h2v3h-2zM729 595h2v2h-2zM730 593h2v4h-2zM731 590h2v5h-2zM732 589h2v3h-2zM733 588h2v3h-2zM734 587h2v3h-2zM735 586h2v3h-2zM736 586h2v4h-2zM737 587h2v3h-2zM738 587h2v4h-2zM739 589h2v2h-2zM740 589h2v2h-2zM741 588h2v3h-2zM742 587h2v3h-2zM743 585h2v4h-2zM744 584h2v3h-2zM745 584h2v2h-2zM746 584h2v2h-2zM747 584h2v2h-2zM748 584h2v3h-2zM749 585h2v2h-2zM750 585h2v2h-2zM751 585h2v2h-2zM752 584h2v3h-2zM753 584h2v2h-2zM754 581h2v5h-2zM755 580h2v3h-2zM756 580h2v2h-2zM757 579h2v3h-2zM758 579h2v2h-2zM759 579h2v2h-2zM760 577h2v4h-2zM761 575h2v4h-2zM762 573h2v4h-2zM763 573h2v3h-2zM764 574h2v2h-2zM765 574h2v3h-2zM766 575h2v2h-2zM767 575h2v2h-2zM768 575h2v3h-2zM769 576h2v3h-2zM770 577h2v2h-2zM771 577h2v2h-2zM772 577h2v2h-2zM773 576h2v3h-2zM774 575h2v3h-2zM775 574h2v3h-2zM776 574h2v2h-2zM777 574h2v2h-2zM778 573h2v3h-2zM779 573h2v2h-2zM780 571h2v4h-2zM781 570h2v3h-2zM782 570h2v3h-2zM783 571h2v2h-2zM784 571h2v3h-2zM785 571h2v3h-2zM786 571h2v2h-2zM787 571h2v2h-2zM788 571h2v2h-2zM789 571h2v2h-2zM790 570h2v3h-2zM791 570h2v3h-2zM792 571h2v2h-2zM793 569h2v4h-2zM794 566h2v5h-2zM795 564h2v4h-2zM796 564h2v2h-2zM797 564h2v2h-2zM798 563h2v3h-2zM799 563h2v3h-2zM800 564h2v2h-2zM801 564h2v2h-2zM802 564h2v2h-2zM803 564h2v2h-2zM804 564h2v2h-2zM805 563h2v3h-2zM806 561h2v4h-2zM807 561h2v3h-2zM808 562h2v2h-2zM809 562h2v2h-2zM810 557h2v7h-2zM811 556h2v3h-2zM812 556h2v2h-2zM813 556h2v2h-2zM814 552h2v6h-2zM815 548h2v6h-2zM816 541h2v9h-2zM817 540h2v3h-2zM818 538h2v4h-2zM819 538h2v2h-2zM820 538h2v3h-2zM821 539h2v3h-2zM822 540h2v2h-2zM823 540h2v2h-2zM824 539h2v3h-2zM825 539h2v2h-2zM826 539h2v3h-2zM827 538h2v4h-2zM828 535h2v5h-2zM829 535h2v2h-2zM830 535h2v2h-2zM831 534h2v3h-2zM832 534h2v3h-2zM833 534h2v3h-2zM834 534h2v2h-2zM835 533h2v3h-2zM836 533h2v2h-2zM837 533h2v4h-2zM838 535h2v2h-2zM839 534h2v3h-2zM840 534h2v2h-2zM841 534h2v4h-2zM842 536h2v3h-2zM843 536h2v3h-2z" fill="#0000a8" shape-rendering="crispEdges"/>
<path d="M75 519H847V663H75z M76 520V662H846V520z M75 664H847V699H75z M76 665V698H846V665z M107 699h1v1.3h-1z M139 699h1v1.3h-1z M171 699h1v1.3h-1z M203 699h1v1.3h-1z M235 699h1v1.3h-1z M267 699h1v1.3h-1z M299 699h1v1.3h-1z M331 699h1v1.3h-1z M363 699h1v1.3h-1z M395 699h1v1.3h-1z M427 699h1v1.3h-1z M459 699h1v1.3h-1z M491 699h1v1.3h-1z M523 699h1v1.3h-1z M555 699h1v1.3h-1z M587 699h1v1.3h-1z M619 699h1v1.3h-1z M651 699h1v1.3h-1z M683 699h1v1.3h-1z M715 699h1v1.3h-1z M747 699h1v1.3h-1z M779 699h1v1.3h-1z M811 699h1v1.3h-1z M843 699h1v1.3h-1z M847 533h1.3v1h-1.3z M847 565h1.3v1h-1.3z M847 597h1.3v1h-1.3z M847 629h1.3v1h-1.3z M847 661h1.3v1h-1.3z " fill="#000" fill-rule="evenodd" shape-rendering="crispEdges"/>
<g font-family="'Liberation Sans','Noto Sans CJK JP',sans-serif" font-size="14px" fill="#000" stroke="#000" stroke-width="0.2" text-rendering="geometricPrecision">
<text transform="translate(851.2 538) scale(0.6421 0.7250)">4521957</text>
<text transform="translate(851.2 570) scale(0.6421 0.7250)">3589757</text>
<text transform="translate(851.2 602) scale(0.6421 0.7250)">2657558</text>
<text transform="translate(851.2 634) scale(0.6421 0.7250)">1725359</text>
<text transform="translate(851.2 666) scale(0.6421 0.7250)">793160</text>
<text transform="translate(75.8 709) scale(0.6421 0.7250)">0</text>
<text transform="translate(91.9 709) scale(0.6421 0.7250)">113</text>
<text transform="translate(123.9 709) scale(0.6421 0.7250)">213</text>
<text transform="translate(155.9 709) scale(0.6421 0.7250)">313</text>
<text transform="translate(187.9 709) scale(0.6421 0.7250)">413</text>
<text transform="translate(219.9 709) scale(0.6421 0.7250)">513</text>
<text transform="translate(251.9 709) scale(0.6421 0.7250)">613</text>
<text transform="translate(283.9 709) scale(0.6421 0.7250)">713</text>
<text transform="translate(315.9 709) scale(0.6421 0.7250)">813</text>
<text transform="translate(347.9 709) scale(0.6421 0.7250)">913</text>
<text transform="translate(374.9 709) scale(0.6421 0.7250)">1013</text>
<text transform="translate(406.9 709) scale(0.6421 0.7250)">1113</text>
<text transform="translate(438.9 709) scale(0.6421 0.7250)">1213</text>
<text transform="translate(470.9 709) scale(0.6421 0.7250)">1313</text>
<text transform="translate(502.9 709) scale(0.6421 0.7250)">1413</text>
<text transform="translate(534.9 709) scale(0.6421 0.7250)">1513</text>
<text transform="translate(566.9 709) scale(0.6421 0.7250)">1613</text>
<text transform="translate(598.9 709) scale(0.6421 0.7250)">1713</text>
<text transform="translate(630.9 709) scale(0.6421 0.7250)">1813</text>
<text transform="translate(662.9 709) scale(0.6421 0.7250)">1913</text>
<text transform="translate(694.9 709) scale(0.6421 0.7250)">2013</text>
<text transform="translate(726.9 709) scale(0.6421 0.7250)">2113</text>
<text transform="translate(758.9 709) scale(0.6421 0.7250)">2213</text>
<text transform="translate(790.9 709) scale(0.6421 0.7250)">2313</text>
<text transform="translate(822.9 709) scale(0.6421 0.7250)">2413</text>
</g>
<g font-family="'Liberation Sans','Noto Sans CJK JP',sans-serif" font-size="8.1px" font-weight="700" fill="#000">
<text y="531.0"><tspan x="79.0" textLength="17.7" lengthAdjust="spacingAndGlyphs" fill="#0000c0">残高</tspan><tspan x="97.4" y="532" textLength="9.6" lengthAdjust="spacingAndGlyphs" font-size="10.15px" font-weight="400" stroke="#000" stroke-width="0.14" text-rendering="geometricPrecision"> / </tspan><tspan x="106.4" y="531.0" textLength="43.5" lengthAdjust="spacingAndGlyphs" fill="#00a800">有効証拠金</tspan><tspan x="150.6" y="532" textLength="9.6" lengthAdjust="spacingAndGlyphs" font-size="10.15px" font-weight="400" stroke="#000" stroke-width="0.14" text-rendering="geometricPrecision"> / </tspan><tspan x="160.2" y="531.0" textLength="8.4" lengthAdjust="spacingAndGlyphs">全</tspan><tspan x="169.6" textLength="22.8" lengthAdjust="spacingAndGlyphs">ティック</tspan><tspan x="192.6" textLength="2.9" lengthAdjust="spacingAndGlyphs">(</tspan><tspan x="196.0" textLength="95.5" lengthAdjust="spacingAndGlyphs">利用可能な最小時間枠を</tspan><tspan x="291.5" textLength="45.2" lengthAdjust="spacingAndGlyphs">使いすべての</tspan><tspan x="336.5" textLength="22.6" lengthAdjust="spacingAndGlyphs">ティック</tspan><tspan x="359.3" textLength="45.9" lengthAdjust="spacingAndGlyphs">を生成する、</tspan><tspan x="405.2" textLength="59.4" lengthAdjust="spacingAndGlyphs">最も正確な方法</tspan><tspan x="464.6" textLength="2.9" lengthAdjust="spacingAndGlyphs">)</tspan><tspan x="466.8" y="532" textLength="9.6" lengthAdjust="spacingAndGlyphs" font-size="10.15px" font-weight="400" stroke="#000" stroke-width="0.14" text-rendering="geometricPrecision"> / </tspan><tspan x="476.9" y="532" textLength="31.6" lengthAdjust="spacingAndGlyphs" font-size="10.15px" font-weight="400" stroke="#000" stroke-width="0.14" text-rendering="geometricPrecision">99.90%</tspan></text>
<text x="79.7" y="676.0" textLength="17.2" lengthAdjust="spacingAndGlyphs">数量</text>
</g>
</svg>
<div id="foot"></div>
</div>
</body></html>
